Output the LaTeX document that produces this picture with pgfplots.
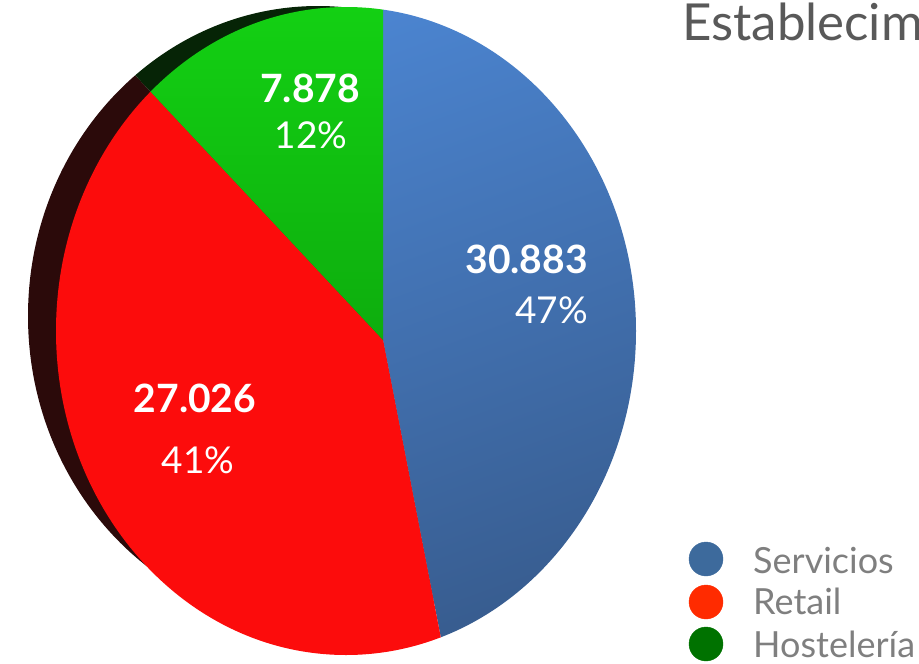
\documentclass[border=0pt]{standalone}
\usepackage{pgfplots}
\pgfplotsset{compat=1.18}
\usepackage{pgfplotstable}
\usepackage{fontspec}
\setmainfont{Lato}
\definecolor{blueTop}{HTML}{4C86D3}
\definecolor{blueBot}{HTML}{385D90}
\definecolor{redFace}{HTML}{FC0C0C}
\definecolor{greenTop}{HTML}{13D013}
\definecolor{greenBot}{HTML}{088C08}
\definecolor{rimRed}{HTML}{2B0A0A}
\definecolor{rimGreen}{HTML}{062406}
\definecolor{titlegray}{HTML}{595959}
\definecolor{leggray}{HTML}{7F7F7F}
\definecolor{legBlue}{HTML}{3D6A9C}
\definecolor{legRed}{HTML}{FF2B00}
\definecolor{legGreen}{HTML}{007200}
\pgfplotstableread{
name value
Servicios 30883
Retail 27026
Hosteleria 7878
}\pietable
\pgfplotstablegetelem{0}{value}\of\pietable\edef\va{\pgfplotsretval}
\pgfplotstablegetelem{1}{value}\of\pietable\edef\vb{\pgfplotsretval}
\pgfplotstablegetelem{2}{value}\of\pietable\edef\vc{\pgfplotsretval}
\edef\T{\fpeval{\va+\vb+\vc}}
\edef\aA{90}
\edef\aB{\fpeval{90-360*\va/\T}}
\edef\aC{\fpeval{\aB-360*\vb/\T}}
\edef\aD{\fpeval{\aC-360*\vc/\T}}
\edef\aAB{\fpeval{(2*\aA+\aB)/3}}\edef\aBA{\fpeval{(\aA+2*\aB)/3}}
\edef\aBC{\fpeval{(2*\aB+\aC)/3}}\edef\aCB{\fpeval{(\aB+2*\aC)/3}}
\edef\aCD{\fpeval{(2*\aC+\aD)/3}}\edef\aDC{\fpeval{(\aC+2*\aD)/3}}
\newcommand\wedgeclip[4]{\clip (axis cs:383,340)
  -- (axis cs:{383+1200*cos(#1)},{340-1200*sin(#1)})
  -- (axis cs:{383+1200*cos(#2)},{340-1200*sin(#2)})
  -- (axis cs:{383+1200*cos(#3)},{340-1200*sin(#3)})
  -- (axis cs:{383+1200*cos(#4)},{340-1200*sin(#4)}) -- cycle;}
\begin{document}%
\begin{tikzpicture}
\begin{axis}[width=919pt,height=664pt,scale only axis,
  xmin=0,xmax=919,ymin=0,ymax=664,y dir=reverse,hide axis,clip=true]
% rim (depth) behind the pie
\begin{scope}
\wedgeclip{\aB}{\aBC}{\aCB}{\aC}
\fill[rimRed] (axis cs:318,316) ellipse [x radius=290pt, y radius=310pt];
\end{scope}
\begin{scope}
\wedgeclip{\aC}{\aCD}{\aDC}{\aD}
\fill[rimGreen] (axis cs:318,316) ellipse [x radius=290pt, y radius=310pt];
\end{scope}
% front face slices
\begin{scope}
\wedgeclip{\aA}{\aAB}{\aBA}{\aB}
\shade[top color=blueTop,bottom color=blueBot,shading angle=20] (axis cs:346,331) ellipse [x radius=290pt, y radius=324pt];
\end{scope}
\begin{scope}
\wedgeclip{\aB}{\aBC}{\aCB}{\aC}
\fill[redFace] (axis cs:346,331) ellipse [x radius=290pt, y radius=324pt];
\end{scope}
\begin{scope}
\wedgeclip{\aC}{\aCD}{\aDC}{\aD}
\shade[top color=greenTop,bottom color=greenBot] (axis cs:346,331) ellipse [x radius=290pt, y radius=324pt];
\end{scope}
% slice labels
\node[anchor=base,inner sep=0,text=white,font=\fontsize{39}{40}\selectfont\bfseries] at (axis cs:310,102) {7.878};
\node[anchor=base,inner sep=0,text=white,font=\fontsize{37}{40}\selectfont] at (axis cs:311,148) {12\%};
\node[anchor=base east,inner sep=0,text=white,font=\fontsize{39}{40}\selectfont\bfseries] at (axis cs:588,273) {30.883};
\node[anchor=base east,inner sep=0,text=white,font=\fontsize{37}{40}\selectfont] at (axis cs:588,323) {47\%};
\node[anchor=base,inner sep=0,text=white,font=\fontsize{39}{40}\selectfont\bfseries] at (axis cs:195,412) {27.026};
\node[anchor=base,inner sep=0,text=white,font=\fontsize{37}{40}\selectfont] at (axis cs:198,473) {41\%};
% title
\node[anchor=base west,inner sep=0,text=titlegray,font=\fontsize{51}{52}\selectfont] at (axis cs:682,40) {Establecimientos};
% legend
\addplot[only marks,mark=*,mark size=17pt,color=legBlue] coordinates {(706,559)};
\addplot[only marks,mark=*,mark size=17pt,color=legRed] coordinates {(706,602)};
\addplot[only marks,mark=*,mark size=17pt,color=legGreen] coordinates {(706,644)};
\node[anchor=base west,inner sep=0,text=leggray,font=\fontsize{36}{38}\selectfont] at (axis cs:753,573) {Servicios};
\node[anchor=base west,inner sep=0,text=leggray,font=\fontsize{36}{38}\selectfont] at (axis cs:753,614) {Retail};
\node[anchor=base west,inner sep=0,text=leggray,font=\fontsize{36}{38}\selectfont] at (axis cs:753,657) {Hostelería};
\end{axis}
\pgfresetboundingbox
\path[use as bounding box] (current axis.south west) rectangle (current axis.north east);
\end{tikzpicture}%
\end{document}
